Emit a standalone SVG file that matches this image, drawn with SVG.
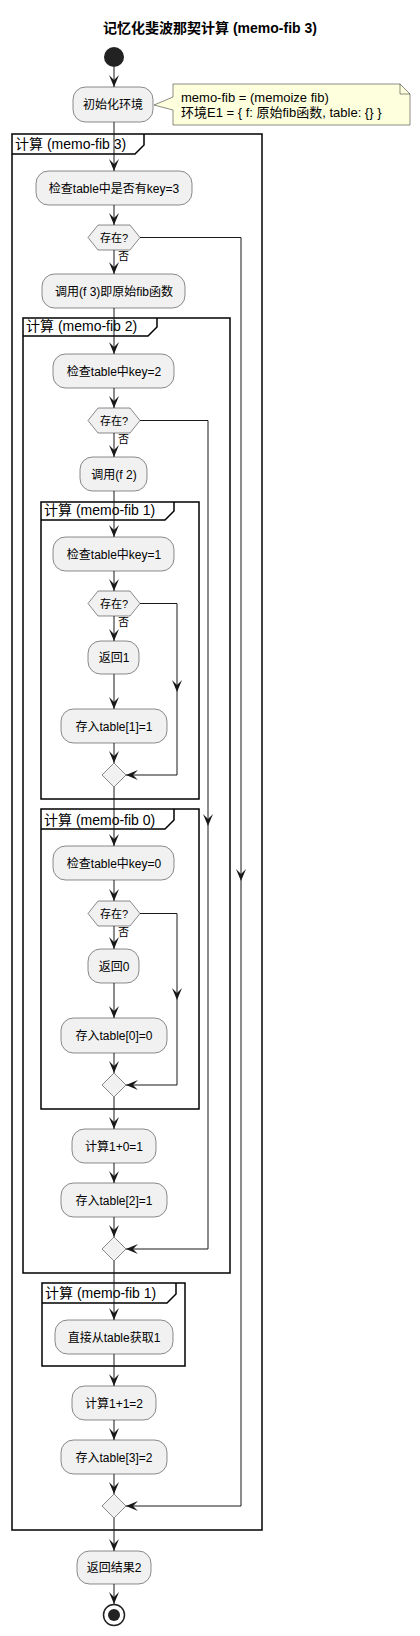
<svg xmlns="http://www.w3.org/2000/svg" width="420" height="1636" viewBox="0 0 420 1636">
<style>
text{font-family:"Liberation Sans","Noto Sans CJK SC",sans-serif;fill:#000}
.t{font-size:12px;text-anchor:middle}
.lbl{font-size:14px}
.sm{font-size:11px}
.act{fill:#F1F1F1;stroke:#181818;stroke-width:0.5}
.frm{fill:none;stroke:#000;stroke-width:1.5}
.ln{fill:none;stroke:#181818;stroke-width:1}
.arr{fill:none;stroke:#181818;stroke-width:1;marker-end:url(#ah)}
</style>
<defs>
<marker id="ah" viewBox="0 0 12 10" refX="12" refY="5" markerWidth="12" markerHeight="10" markerUnits="userSpaceOnUse" orient="auto">
<path d="M0,0 L12,5 L0,10 L5,5 Z" fill="#181818"/>
</marker>
</defs>
<rect width="420" height="1636" fill="#fff"/>
<text x="210" y="33" style="font-size:14px;font-weight:bold;text-anchor:middle">记忆化斐波那契计算 (memo-fib 3)</text>

<g id="frame3"><rect class="frm" x="12" y="134" width="250" height="1396"/><path class="frm" d="M12,154 H135 L144,145 V134"/><text class="lbl" x="15" y="149">计算 (memo-fib 3)</text></g>
<g id="frame2"><rect class="frm" x="23" y="318" width="207" height="955"/><path class="frm" d="M23,336 H148 L157,327 V318"/><text class="lbl" x="26" y="331">计算 (memo-fib 2)</text></g>
<g id="frame1a"><rect class="frm" x="41" y="502" width="158" height="297"/><path class="frm" d="M41,520 H165 L174,511 V502"/><text class="lbl" x="44" y="515">计算 (memo-fib 1)</text></g>
<g id="frame0"><rect class="frm" x="41" y="809" width="158" height="300"/><path class="frm" d="M41,829 H165 L174,820 V809"/><text class="lbl" x="44" y="825">计算 (memo-fib 0)</text></g>
<g id="frame1b"><rect class="frm" x="42" y="1283" width="143" height="83"/><path class="frm" d="M42,1303 H167 L176,1294 V1283"/><text class="lbl" x="45" y="1298">计算 (memo-fib 1)</text></g>

<g id="connectors">
<path class="arr" d="M114,67 V87"/>
<path class="arr" d="M114,122 V171"/>
<path class="arr" d="M114,205 V225"/>
<path class="arr" d="M114,250 V274"/>
<path class="arr" d="M114,308 V354"/>
<path class="arr" d="M114,388 V408"/>
<path class="arr" d="M114,433 V457"/>
<path class="arr" d="M114,491 V537"/>
<path class="arr" d="M114,571 V591"/>
<path class="arr" d="M114,616 V641"/>
<path class="arr" d="M114,674 V709"/>
<path class="arr" d="M114,743 V763"/>
<path class="arr" d="M114,787 V846"/>
<path class="arr" d="M114,880 V901"/>
<path class="arr" d="M114,926 V949"/>
<path class="arr" d="M114,983 V1018"/>
<path class="arr" d="M114,1053 V1073"/>
<path class="arr" d="M114,1097 V1129"/>
<path class="arr" d="M114,1163 V1183"/>
<path class="arr" d="M114,1217 V1237"/>
<path class="arr" d="M114,1261 V1320"/>
<path class="arr" d="M114,1354 V1386"/>
<path class="arr" d="M114,1420 V1440"/>
<path class="arr" d="M114,1474 V1494"/>
<path class="arr" d="M114,1518 V1551"/>
<path class="arr" d="M114,1584 V1604"/>
<path class="arr" d="M140,237.5 H241 V881"/>
<path class="arr" d="M241,881 V1506 H126"/>
<path class="arr" d="M140,420.5 H208 V826"/>
<path class="arr" d="M208,826 V1249 H126"/>
<path class="arr" d="M140,603.5 H177 V692"/>
<path class="arr" d="M177,692 V775 H126"/>
<path class="arr" d="M140,913.5 H177 V1000"/>
<path class="arr" d="M177,1000 V1085 H126"/>
<text class="sm" x="118" y="260">否</text>
<text class="sm" x="118" y="443">否</text>
<text class="sm" x="118" y="626">否</text>
<text class="sm" x="118" y="936">否</text>
</g>

<g id="start"><circle cx="114" cy="57" r="10" fill="#222"/></g>
<g id="a1"><rect class="act" x="73" y="87" width="80" height="35" rx="12.5"/><text class="t" x="113" y="109">初始化环境</text></g>
<g id="note"><path d="M173,84 H400 L410,94 V125 H173 V110 L154,105 L173,97 Z" fill="#FEFFDD" stroke="#181818" stroke-width="0.5"/><path d="M400,84 V94 H410" fill="none" stroke="#181818" stroke-width="0.5"/><text x="181" y="101.5" style="font-size:13px">memo-fib = (memoize fib)</text><text x="181" y="116.5" style="font-size:13px">环境E1 = { f: 原始fib函数, table: {} }</text></g>
<g id="a2"><rect class="act" x="36" y="171" width="156" height="34" rx="12.5"/><text class="t" x="114" y="192.5">检查table中是否有key=3</text></g>
<g id="d1"><polygon class="act" points="88,237.5 98,225 130,225 140,237.5 130,250 98,250"/><text class="sm" x="114" y="241.5" text-anchor="middle">存在?</text></g>
<g id="a3"><rect class="act" x="42" y="274" width="143" height="34" rx="12.5"/><text class="t" x="114" y="295.5">调用(f 3)即原始fib函数</text></g>
<g id="a4"><rect class="act" x="53" y="354" width="121" height="34" rx="12.5"/><text class="t" x="114" y="375.5">检查table中key=2</text></g>
<g id="d2"><polygon class="act" points="88,420.5 98,408 130,408 140,420.5 130,433 98,433"/><text class="sm" x="114" y="424.5" text-anchor="middle">存在?</text></g>
<g id="a5"><rect class="act" x="80" y="457" width="67" height="34" rx="12.5"/><text class="t" x="114" y="478.5">调用(f 2)</text></g>
<g id="a6"><rect class="act" x="53" y="537" width="121" height="34" rx="12.5"/><text class="t" x="114" y="558.5">检查table中key=1</text></g>
<g id="d3"><polygon class="act" points="88,603.5 98,591 130,591 140,603.5 130,616 98,616"/><text class="sm" x="114" y="607.5" text-anchor="middle">存在?</text></g>
<g id="a7"><rect class="act" x="88" y="641" width="51" height="33" rx="12.5"/><text class="t" x="114" y="662">返回1</text></g>
<g id="a8"><rect class="act" x="61" y="709" width="106" height="34" rx="12.5"/><text class="t" x="114" y="730.5">存入table[1]=1</text></g>
<g id="m3"><polygon class="act" points="114,763 126,775 114,787 102,775"/></g>
<g id="a9"><rect class="act" x="53" y="846" width="121" height="34" rx="12.5"/><text class="t" x="114" y="867.5">检查table中key=0</text></g>
<g id="d4"><polygon class="act" points="88,913.5 98,901 130,901 140,913.5 130,926 98,926"/><text class="sm" x="114" y="917.5" text-anchor="middle">存在?</text></g>
<g id="a10"><rect class="act" x="88" y="949" width="51" height="34" rx="12.5"/><text class="t" x="114" y="970.5">返回0</text></g>
<g id="a11"><rect class="act" x="61" y="1018" width="106" height="35" rx="12.5"/><text class="t" x="114" y="1040">存入table[0]=0</text></g>
<g id="m4"><polygon class="act" points="114,1073 126,1085 114,1097 102,1085"/></g>
<g id="a12"><rect class="act" x="72" y="1129" width="84" height="34" rx="12.5"/><text class="t" x="114" y="1150.5">计算1+0=1</text></g>
<g id="a13"><rect class="act" x="61" y="1183" width="106" height="34" rx="12.5"/><text class="t" x="114" y="1204.5">存入table[2]=1</text></g>
<g id="m2"><polygon class="act" points="114,1237 126,1249 114,1261 102,1249"/></g>
<g id="a14"><rect class="act" x="55" y="1320" width="118" height="34" rx="12.5"/><text class="t" x="114" y="1341.5">直接从table获取1</text></g>
<g id="a15"><rect class="act" x="72" y="1386" width="84" height="34" rx="12.5"/><text class="t" x="114" y="1407.5">计算1+1=2</text></g>
<g id="a16"><rect class="act" x="61" y="1440" width="106" height="34" rx="12.5"/><text class="t" x="114" y="1461.5">存入table[3]=2</text></g>
<g id="m1"><polygon class="act" points="114,1494 126,1506 114,1518 102,1506"/></g>
<g id="a17"><rect class="act" x="77" y="1551" width="74" height="33" rx="12.5"/><text class="t" x="114" y="1572">返回结果2</text></g>
<g id="end"><circle cx="114" cy="1615" r="10.5" fill="none" stroke="#222" stroke-width="1.5"/><circle cx="114" cy="1615" r="6" fill="#222"/></g>
</svg>
